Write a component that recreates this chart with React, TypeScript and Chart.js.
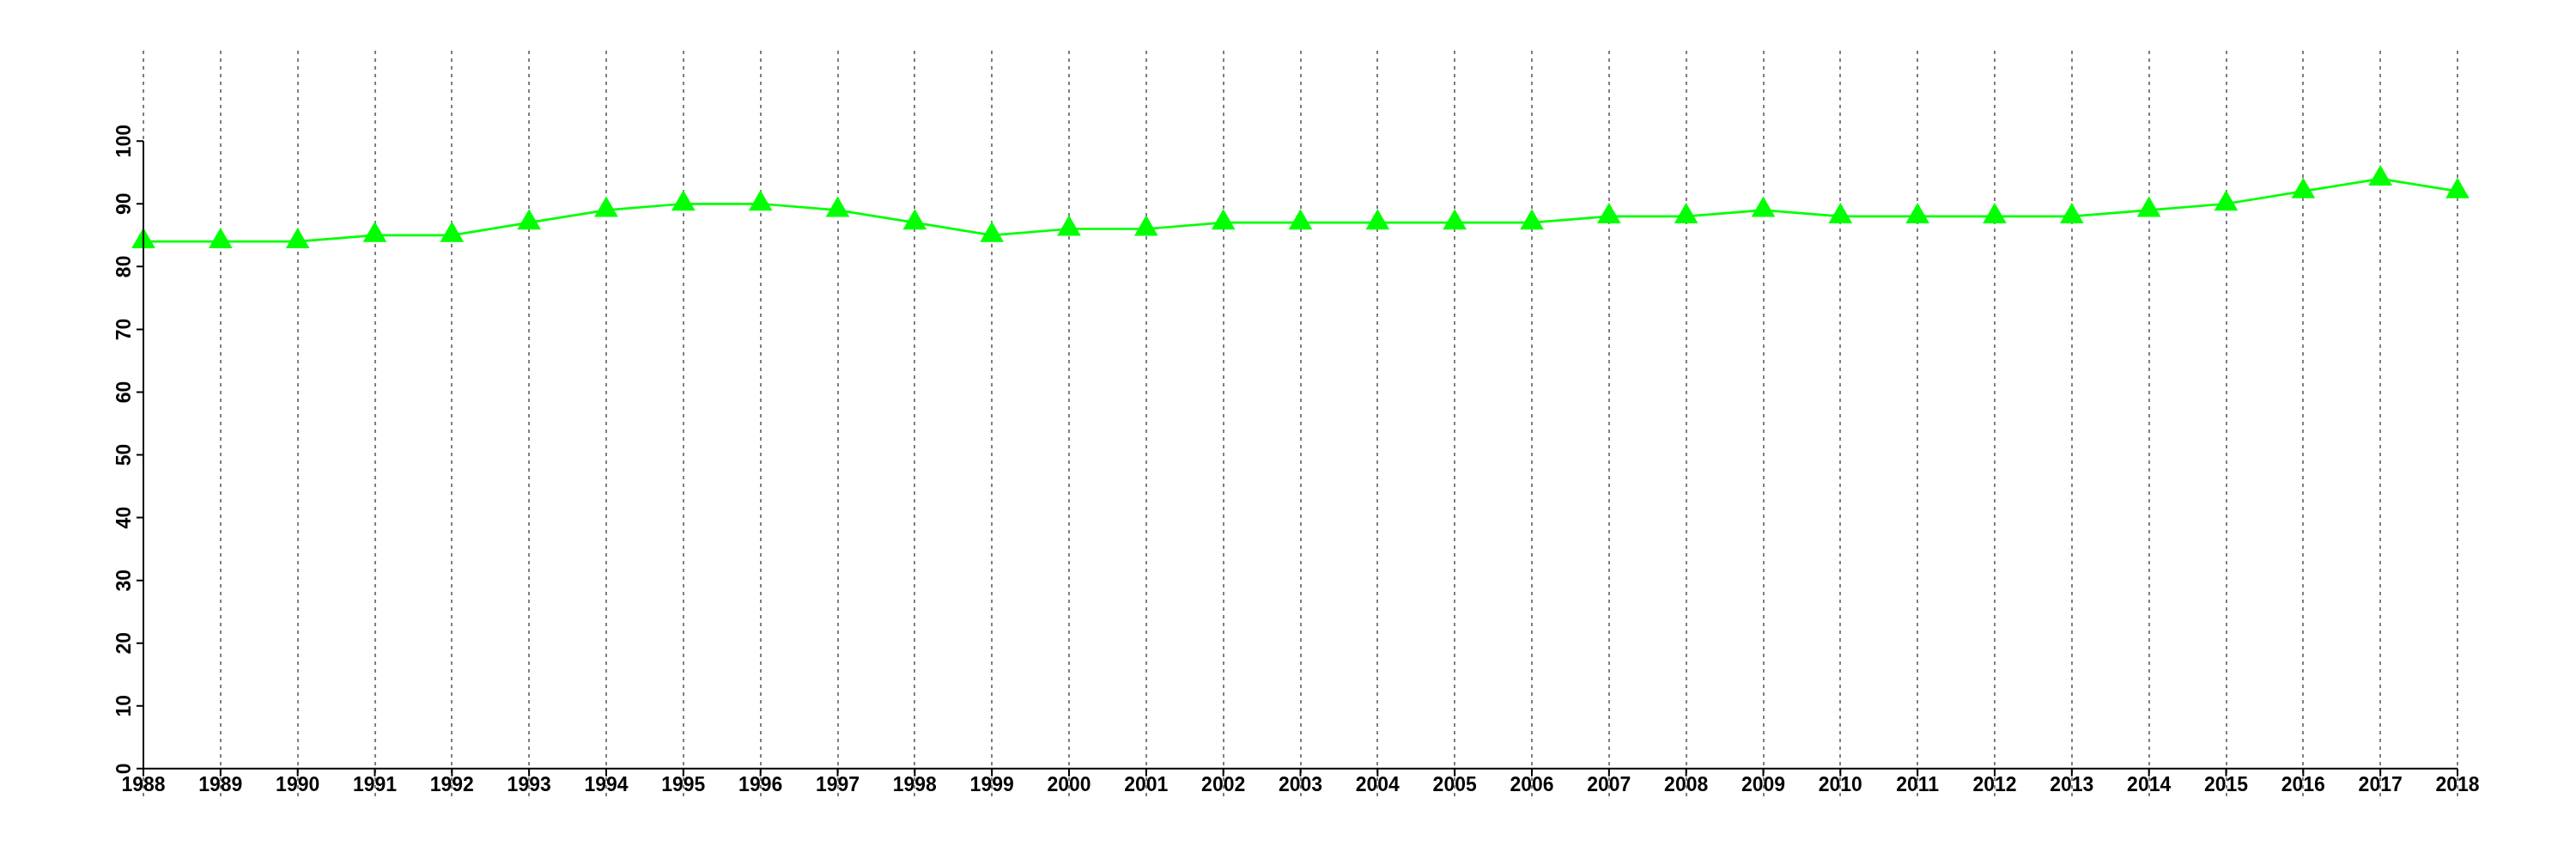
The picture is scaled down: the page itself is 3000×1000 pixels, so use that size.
import React, { useEffect, useRef } from "react";
import { Chart, registerables } from "chart.js";

Chart.register(...registerables);

const years: string[] = [
  "1988", "1989", "1990", "1991", "1992", "1993", "1994", "1995", "1996", "1997",
  "1998", "1999", "2000", "2001", "2002", "2003", "2004", "2005", "2006", "2007",
  "2008", "2009", "2010", "2011", "2012", "2013", "2014", "2015", "2016", "2017", "2018",
];

const values: number[] = [
  84, 84, 84, 85, 85, 87, 89, 90, 90, 89,
  87, 85, 86, 86, 87, 87, 87, 87, 87, 88,
  88, 89, 88, 88, 88, 88, 89, 90, 92, 94, 92,
];

const yTickValues: number[] = [0, 10, 20, 30, 40, 50, 60, 70, 80, 90, 100];

const FONT = "bold 23px 'Liberation Sans', Arial, Helvetica, sans-serif";

const axesPlugin = {
  id: "rAxes",
  afterDraw(chart: any) {
    const ctx = chart.ctx;
    const xs = chart.scales.x;
    const ys = chart.scales.y;
    const x0 = xs.getPixelForValue(0);
    const x1 = xs.getPixelForValue(years.length - 1);
    const y0 = ys.getPixelForValue(0);
    const yTop = ys.getPixelForValue(yTickValues[yTickValues.length - 1]);
    ctx.save();
    ctx.strokeStyle = "#000";
    ctx.fillStyle = "#000";
    ctx.lineWidth = 2;
    ctx.setLineDash([]);
    // y axis
    ctx.beginPath();
    ctx.moveTo(x0, y0);
    ctx.lineTo(x0, yTop);
    for (const v of yTickValues) {
      const p = ys.getPixelForValue(v);
      ctx.moveTo(x0, p);
      ctx.lineTo(x0 - 8, p);
    }
    // x axis
    ctx.moveTo(x0, y0);
    ctx.lineTo(x1, y0);
    for (let i = 0; i < years.length; i++) {
      const p = xs.getPixelForValue(i);
      ctx.moveTo(p, y0);
      ctx.lineTo(p, y0 + 9);
    }
    ctx.stroke();
    ctx.font = FONT;
    ctx.textAlign = "center";
    ctx.textBaseline = "alphabetic";
    for (let i = 0; i < years.length; i++) {
      const p = xs.getPixelForValue(i);
      ctx.fillText(years[i], p, y0 + 26);
    }
    for (const v of yTickValues) {
      const p = ys.getPixelForValue(v);
      ctx.save();
      ctx.translate(x0 - 15, p);
      ctx.rotate(-Math.PI / 2);
      ctx.fillText(String(v), 0, 0);
      ctx.restore();
    }
    ctx.restore();
  },
};

export default function App() {
  const ref = useRef<HTMLCanvasElement | null>(null);
  useEffect(() => {
    document.body.style.margin = "0";
    const canvas = ref.current;
    if (!canvas) return;
    const chart = new Chart(canvas, {
      type: "line",
      data: {
        labels: years,
        datasets: [
          {
            data: values,
            borderColor: "#00FF00",
            backgroundColor: "#00FF00",
            borderWidth: 2.7,
            tension: 0,
            pointStyle: "triangle",
            pointRadius: 16,
            pointHoverRadius: 16,
            pointBackgroundColor: "#00FF00",
            pointBorderWidth: 0,
            fill: false,
          },
        ],
      },
      options: {
        responsive: false,
        animation: false,
        devicePixelRatio: 1,
        layout: {
          autoPadding: false,
          padding: { left: 167, right: 138, top: 59, bottom: 73 },
        },
        plugins: {
          legend: { display: false },
          tooltip: { enabled: false },
          title: { display: false },
        },
        scales: {
          x: {
            type: "category",
            offset: false,
            z: 1,
            grid: {
              display: true,
              color: "#7f7f7f",
              lineWidth: 2,
              drawTicks: false,
              offset: false,
            },
            border: { display: false, dash: [4, 5] },
            ticks: { display: false },
          },
          y: {
            display: false,
            min: -4.4,
            max: 114.4,
          },
        },
      },
      plugins: [axesPlugin],
    });
    return () => chart.destroy();
  }, []);
  return <canvas ref={ref} width={3000} height={1000} style={{ display: "block" }} />;
}
